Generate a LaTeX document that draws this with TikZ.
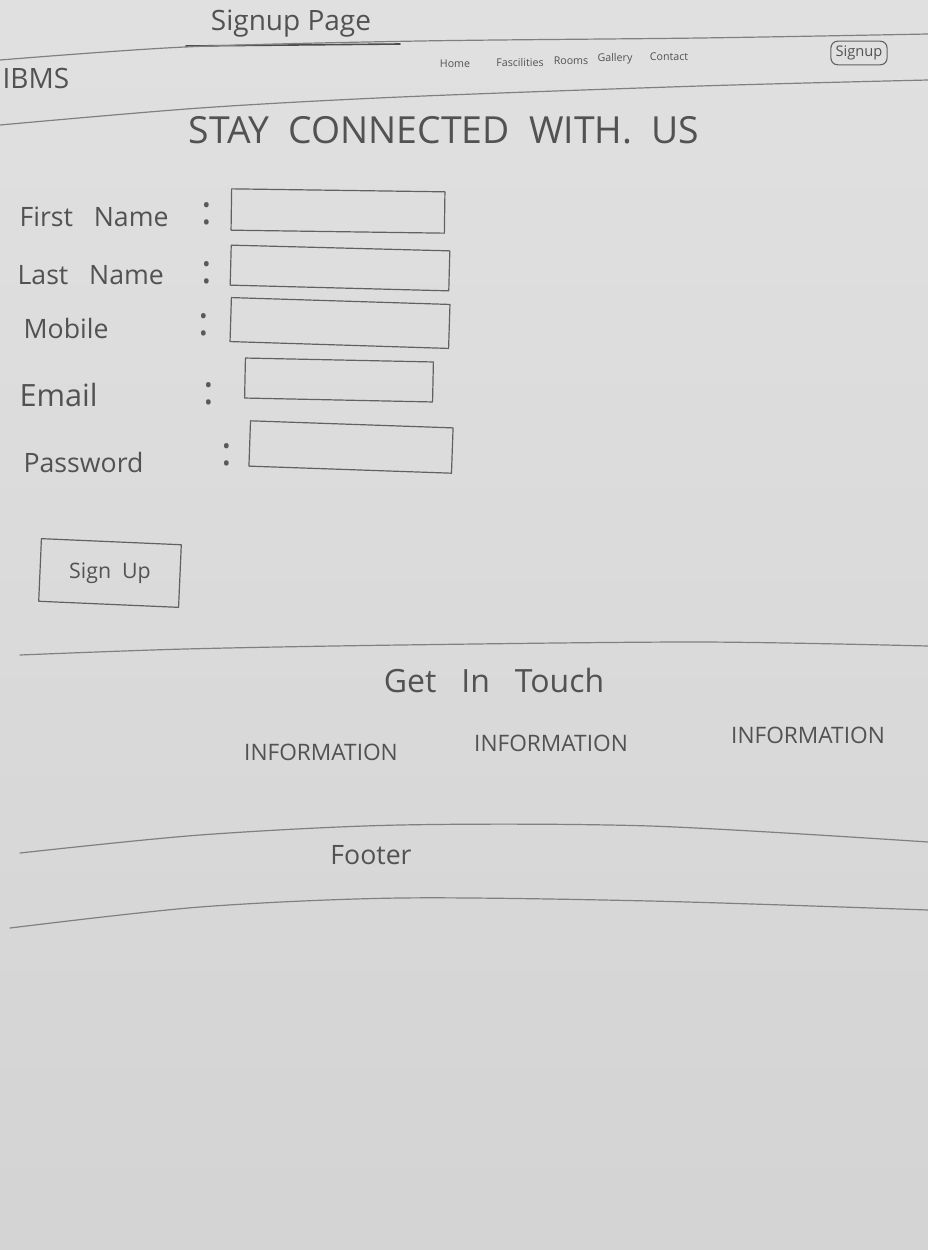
\documentclass[tikz,border=0pt]{standalone}
\usepackage{fontspec}
\setmainfont{Open Sans}
\begin{document}
\begin{tikzpicture}[x=0.75pt,y=-0.75pt,
  pencil/.style={draw=black!62, line width=0.9pt, line cap=round, line join=round},
  hw/.style={text=black!68, inner sep=1pt, font=\fontsize{#1}{#1}\selectfont},
  hw/.default=18,
  field/.style={pencil, inner sep=0pt},
  colon/.style={text=black!65, font=\fontsize{30}{30}\selectfont, inner sep=0pt}
]
% paper
\shade[top color=black!12, bottom color=black!17] (0,0) rectangle (928,1250);
\useasboundingbox (0,0) rectangle (928,1250);

% title
\node[hw=21] (title) at (291,24) {Signup\ Page};
\draw[pencil, line width=1.2pt, draw=black!70] (186,46) -- (400,44);

% header lines
\draw[pencil, draw=black!50] plot[smooth] coordinates {(0,60) (185,47) (420,41) (700,38) (928,34)};
\draw[pencil, draw=black!50] plot[smooth] coordinates {(0,125) (200,108) (400,97) (700,86) (928,80)};

% brand + nav
\node[hw=21, anchor=west] (brand) at (1,78) {IBMS};
\node[hw=8] (nHome) at (455,64) {Home};
\node[hw=8] (nFac) at (520,62) {Fascilities};
\node[hw=8] (nRooms) at (571,61) {Rooms};
\node[hw=8] (nGal) at (615,59) {Gallery};
\node[hw=8] (nCon) at (669,57) {Contact};
\node[hw=11, draw=black!62, rounded corners=5pt, line width=0.8pt, inner sep=3.5pt] (nSign) at (859,53) {Signup};

% heading
\node[hw=28] (stay) at (444,130) {STAY\ \ CONNECTED\ \ WITH.\ \ US};

% labels
\node[hw=20, anchor=west] (lFirst) at (18,217) {First\ \ \ Name};
\node[hw=20, anchor=west] (lLast) at (16,275) {Last\ \ \ Name};
\node[hw=20, anchor=west] (lMob) at (22,328) {Mobile};
\node[hw=23, anchor=west] (lEmail) at (18,395) {Email};
\node[hw=20, anchor=west] (lPass) at (22,462) {Password};

% colons
\node[colon] (c1) at (207,214) {:};
\node[colon] (c2) at (207,273) {:};
\node[colon] (c3) at (204,325) {:};
\node[colon] (c4) at (209,394) {:};
\node[colon] (c5) at (227,455) {:};

% input fields
\node[field, minimum width=160pt, minimum height=31pt, rotate=-0.8] (f1) at (338,211) {};
\node[field, minimum width=164pt, minimum height=30pt, rotate=-1.5] (f2) at (340,268) {};
\node[field, minimum width=164pt, minimum height=33pt, rotate=-1.8] (f3) at (340,323) {};
\node[field, minimum width=141pt, minimum height=30pt, rotate=-1.2] (f4) at (339,380) {};
\node[field, minimum width=152pt, minimum height=34pt, rotate=-2] (f5) at (351,447) {};

% sign up button
\node[pencil, minimum width=105pt, minimum height=47pt, rotate=-2.5, inner sep=0pt] (btn) at (110,573) {};
\node[hw=16] (btnText) at (btn) {Sign\ \ Up};

% get in touch section
\draw[pencil, draw=black!50] plot[smooth] coordinates {(20,655) (185,649) (400,645) (700,642) (928,646)};
\node[hw=24] (touch) at (494,680) {Get\ \ \ In\ \ \ Touch};
\node[hw=17] (i1) at (321,752) {INFORMATION};
\node[hw=17] (i2) at (551,743) {INFORMATION};
\node[hw=17] (i3) at (808,735) {INFORMATION};

% footer
\draw[pencil, draw=black!50] plot[smooth] coordinates {(20,853) (200,835) (400,825) (650,826) (928,842)};
\node[hw=20] (footer) at (371,855) {Footer};
\draw[pencil, draw=black!50] plot[smooth] coordinates {(10,928) (200,907) (400,898) (650,901) (928,910)};
\end{tikzpicture}
\end{document}
